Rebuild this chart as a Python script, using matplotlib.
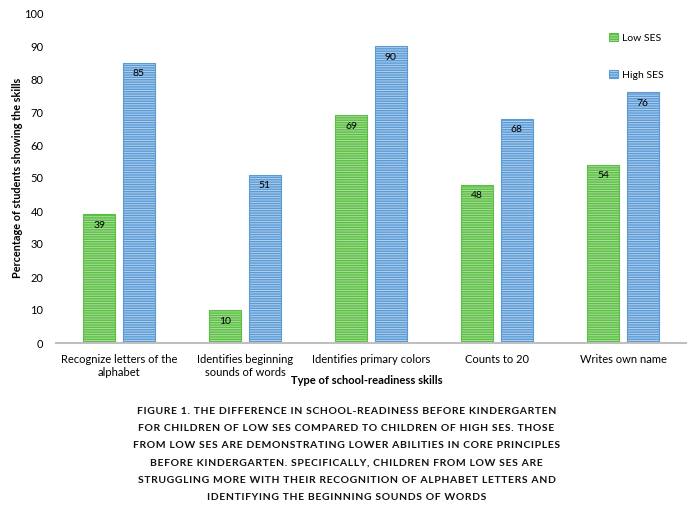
import matplotlib.pyplot as plt
import numpy as np

plt.rcParams['font.family'] = ['Lato', 'DejaVu Sans']
plt.rcParams['hatch.linewidth'] = 1.0

# data
skills = ["Recognize letters of the\nalphabet", "Identifies beginning\nsounds of words",
          "Identifies primary colors", "Counts to 20", "Writes own name"]
low_ses = [39, 10, 69, 48, 54]
high_ses = [85, 51, 90, 68, 76]
yticks = [0, 10, 20, 30, 40, 50, 60, 70, 80, 90, 100]
caption = [
    "FIGURE 1. THE DIFFERENCE IN SCHOOL-READINESS BEFORE KINDERGARTEN",
    "FOR CHILDREN OF LOW SES COMPARED TO CHILDREN OF HIGH SES. THOSE",
    "FROM LOW SES ARE DEMONSTRATING LOWER ABILITIES IN CORE PRINCIPLES",
    "BEFORE KINDERGARTEN. SPECIFICALLY, CHILDREN FROM LOW SES ARE",
    "STRUGGLING MORE WITH THEIR RECOGNITION OF ALPHABET LETTERS AND",
    "IDENTIFYING THE BEGINNING SOUNDS OF WORDS",
]

fig = plt.figure(figsize=(6.93, 5.08), dpi=100)
ax = fig.add_axes([56 / 693, 1 - 343 / 508, 630 / 693, 330 / 508])

x = np.arange(len(skills))
w = 0.254
off = 0.157

b1 = ax.bar(x - off, low_ses, w, color='#a9de9a', edgecolor='#5cbf45',
            hatch='-------', linewidth=0.8, label='Low SES')
b2 = ax.bar(x + off, high_ses, w, color='#b3d0ee', edgecolor='#5b9bd5',
            hatch='-------', linewidth=0.8, label='High SES')

# value labels sit inside the top of each bar
for bars in (b1, b2):
    for rect in bars:
        ax.annotate(f"{rect.get_height():.0f}",
                    (rect.get_x() + rect.get_width() / 2, rect.get_height()),
                    xytext=(0, -8), textcoords='offset points',
                    ha='center', va='center', fontsize=7.5, color='black')

ax.set_xlim(-0.5, len(skills) - 0.5)
ax.set_ylim(0, 100)
ax.set_yticks(yticks)
ax.set_xticks(x)
ax.set_xticklabels(skills, fontsize=8)
ax.tick_params(axis='both', length=0, labelsize=8)
ax.tick_params(axis='x', pad=8)
ax.tick_params(axis='y', pad=9)
for s in ['top', 'right', 'left']:
    ax.spines[s].set_visible(False)
ax.spines['bottom'].set_color('#bfbfbf')
ax.spines['bottom'].set_linewidth(1.5)

ax.set_ylabel("Percentage of students showing the skills", fontsize=7.8,
              fontweight='bold', labelpad=1)
fig.text(367 / 693, 1 - 381 / 508, "Type of school-readiness skills",
         ha='center', va='center', fontsize=8, fontweight='bold')

fig.legend(loc='upper left', bbox_to_anchor=(600 / 693, 1 - 24 / 508),
           frameon=False, fontsize=7.5, labelspacing=2.6,
           handlelength=0.8, handleheight=0.8, handletextpad=0.4)

# caption is letter-spaced in the reference: pad letters with hair spaces
for i, line in enumerate(caption):
    spaced = '\u200a'.join(line)
    fig.text(0.5, 1 - (411 + i * 17.3) / 508, spaced, ha='center', va='center',
             fontsize=7.5, fontweight='bold', color='#111111')

plt.savefig('out.png', dpi=100)
